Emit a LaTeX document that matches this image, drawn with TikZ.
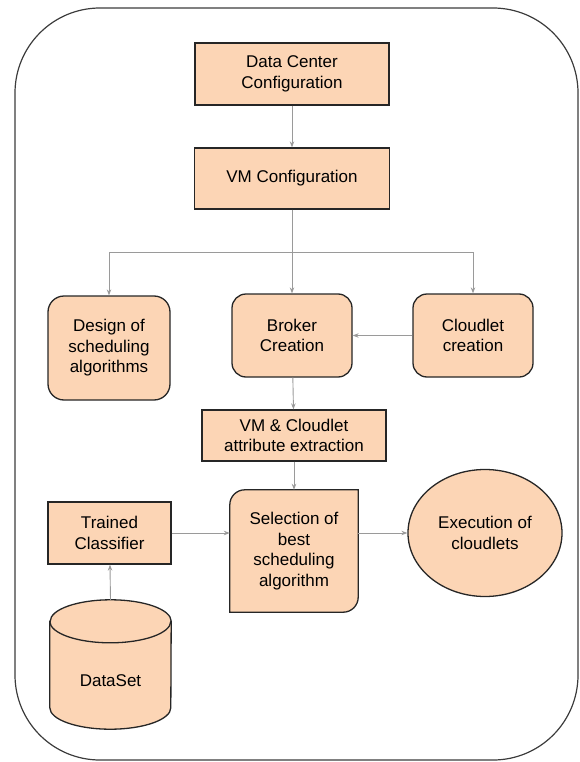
\documentclass[tikz,border=0pt]{standalone}
\usepackage{fontspec}
\setmainfont{Liberation Sans}
\usetikzlibrary{shapes.geometric,arrows.meta}
\definecolor{peach}{HTML}{FCD5B5}
\definecolor{edge}{HTML}{262626}
\definecolor{wire}{HTML}{9A9A9A}

\begin{document}
\begin{tikzpicture}[x=1pt,y=-1pt,
  box/.style={draw=edge,fill=peach,line width=1.3pt},
  txt/.style={align=center,inner sep=0pt,font=\fontsize{17}{20.5}\selectfont},
  sqbox/.style={box,txt,minimum width=#1},
  rbox/.style={box,txt,rounded corners=14pt,minimum width=120pt,minimum height=83pt},
  conn/.style={draw=wire,line width=0.9pt,-{Stealth[length=6pt,width=4.5pt]}}]
\useasboundingbox (0,0) rectangle (579,762);
%% outer frame
\draw[edge!90,line width=1.2pt,rounded corners=85pt] (15,8) rectangle (578,760);

%% boxes
\node[sqbox=194pt,minimum height=62pt] (dc) at (292,74) {Data Center\\Configuration};
\node[sqbox=195pt,minimum height=61pt] (vm) at (292,178.5) {VM Configuration};
\node[box,txt,rounded corners=16pt,minimum width=122pt,minimum height=104pt] (design) at (109,348) {Design of\\scheduling\\algorithms};
\node[rbox] (broker) at (292,335.5) {Broker\\Creation};
\node[rbox] (cloudlet) at (473,335.5) {Cloudlet\\creation};
\node[sqbox=184pt,minimum height=51pt] (attr) at (294,435.5) {VM \& Cloudlet\\attribute extraction};
\node[sqbox=123pt,minimum height=62pt] (trained) at (109.5,533) {Trained\\Classifier};
\node[box,txt,ellipse,minimum width=154pt,minimum height=127pt] (exec) at (485,533) {Execution of\\cloudlets};

%% selection box, two round corners
\node[txt,minimum width=128pt,minimum height=122pt] (sel) at (294,551) {};
\draw[box] (sel.south west) -- ([yshift=-15pt]sel.north west)
  arc[start angle=180,end angle=90,radius=15pt] -- (sel.north east)
  -- ([yshift=15pt]sel.south east) arc[start angle=0,end angle=-90,radius=15pt] -- cycle;
\node[txt] at (sel) {Selection of\\best\\scheduling\\algorithm};

%% dataset drum
\node[txt,minimum width=121pt,minimum height=129pt] (data) at (110.5,664.5) {};
\draw[box] ([yshift=-21.5pt]data.north west) -- ([yshift=21.5pt]data.south west)
  arc[start angle=180,end angle=360,x radius=60.5pt,y radius=21.5pt]
  -- ([yshift=-21.5pt]data.north east)
  arc[start angle=0,end angle=180,x radius=60.5pt,y radius=21.5pt] -- cycle;
\draw[edge,line width=1.3pt] ([yshift=-21.5pt]data.north west)
  arc[start angle=180,end angle=360,x radius=60.5pt,y radius=21.5pt];
\node[txt] at (110.5,681) {DataSet};

%% connectors
\coordinate (split) at (292,252);
\draw[conn] (dc) -- (vm);
\draw[conn] (vm) -- (broker);
\draw[conn] (split) -| (design);
\draw[conn] (split) -| (cloudlet);
\draw[conn] (cloudlet) -- (broker);
\draw[conn] (broker) -- (attr);
\draw[conn] (attr) -- (sel);
\draw[conn] (trained) -- (sel.west |- trained);
\draw[conn] (sel.east |- exec) -- (exec);
\draw[conn] (data.north) -- (trained);
\end{tikzpicture}
\end{document}
